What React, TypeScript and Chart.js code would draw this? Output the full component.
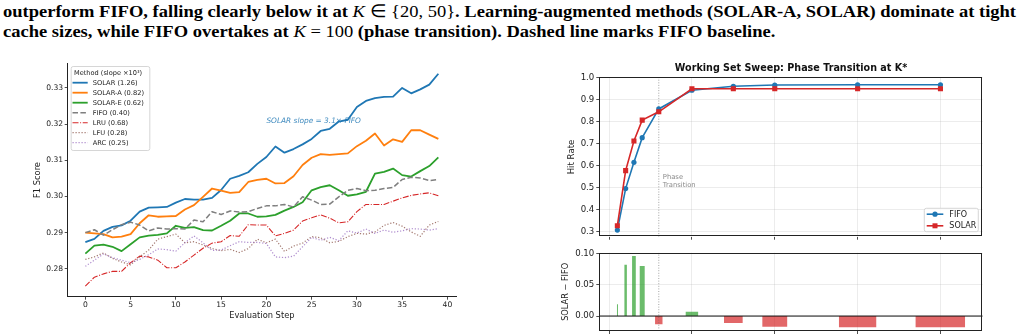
import React, { useEffect, useLayoutEffect, useRef } from "react";
import { Chart, registerables } from "chart.js";

Chart.register(...registerables);

const FONT = "'DejaVu Sans', sans-serif";
const TEXT = "#222";

// ---------------- Left chart data ----------------
const STEPS = [0, 1, 2, 3, 4, 5, 6, 7, 8, 9, 10, 11, 12, 13, 14, 15, 16, 17, 18, 19, 20, 21, 22, 23, 24, 25, 26, 27, 28, 29, 30, 31, 32, 33, 34, 35, 36, 37, 38, 39];
const SOLAR = [0.2874, 0.2883, 0.2905, 0.2916, 0.292, 0.2933, 0.2958, 0.2969, 0.297, 0.2971, 0.2983, 0.2993, 0.2991, 0.2991, 0.2996, 0.3018, 0.3049, 0.3057, 0.3067, 0.309, 0.3109, 0.3138, 0.3121, 0.3131, 0.3144, 0.3159, 0.3181, 0.3187, 0.3207, 0.3212, 0.3247, 0.3264, 0.3272, 0.3275, 0.3276, 0.33, 0.3285, 0.3296, 0.3309, 0.3339];
const SOLAR_A = [0.29, 0.2898, 0.2896, 0.2887, 0.2889, 0.2896, 0.2926, 0.2948, 0.2944, 0.2945, 0.2946, 0.2964, 0.2976, 0.2999, 0.3022, 0.3016, 0.301, 0.3012, 0.304, 0.3046, 0.3049, 0.3036, 0.3037, 0.3056, 0.3087, 0.3107, 0.3117, 0.3115, 0.3117, 0.3119, 0.3139, 0.3154, 0.3174, 0.3141, 0.3158, 0.3151, 0.3183, 0.3183, 0.3171, 0.3159];
const SOLAR_E = [0.2842, 0.2864, 0.2867, 0.2861, 0.2849, 0.2868, 0.2887, 0.2892, 0.2894, 0.2898, 0.2919, 0.2913, 0.2915, 0.2907, 0.2906, 0.2919, 0.2933, 0.2953, 0.2953, 0.2944, 0.2945, 0.2949, 0.2961, 0.2971, 0.2984, 0.3017, 0.3026, 0.3031, 0.3017, 0.3002, 0.3006, 0.3013, 0.3063, 0.3068, 0.3077, 0.3059, 0.3055, 0.307, 0.3084, 0.3108];
const FIFO = [0.29, 0.2908, 0.2893, 0.2908, 0.2922, 0.2929, 0.2921, 0.2905, 0.2913, 0.291, 0.2911, 0.291, 0.2935, 0.293, 0.2958, 0.295, 0.296, 0.2957, 0.2958, 0.2967, 0.2974, 0.2974, 0.2978, 0.2971, 0.2999, 0.299, 0.2978, 0.2979, 0.2999, 0.3017, 0.3022, 0.3016, 0.3017, 0.3022, 0.3025, 0.3047, 0.3053, 0.3051, 0.3044, 0.3047];
const LRU = [0.2752, 0.2777, 0.2786, 0.2793, 0.2793, 0.2817, 0.2835, 0.2833, 0.2824, 0.2803, 0.2803, 0.2819, 0.2838, 0.2857, 0.2871, 0.2875, 0.2892, 0.289, 0.2922, 0.2921, 0.2921, 0.2891, 0.2898, 0.2907, 0.2932, 0.2941, 0.2949, 0.294, 0.2927, 0.293, 0.2958, 0.2978, 0.2978, 0.2978, 0.2987, 0.2996, 0.3003, 0.3007, 0.301, 0.3002];
const LFU = [0.2826, 0.2833, 0.2844, 0.2829, 0.2819, 0.2811, 0.2833, 0.2852, 0.2882, 0.2889, 0.2896, 0.2872, 0.2875, 0.2866, 0.2856, 0.285, 0.2854, 0.2845, 0.2856, 0.2882, 0.2872, 0.2882, 0.2848, 0.2863, 0.2871, 0.2889, 0.2886, 0.2872, 0.2876, 0.2889, 0.2898, 0.2896, 0.2902, 0.292, 0.2928, 0.2918, 0.2902, 0.289, 0.2921, 0.2931];
const ARC = [0.2807, 0.2824, 0.2841, 0.2831, 0.2824, 0.2817, 0.2826, 0.2839, 0.2855, 0.2853, 0.2849, 0.2872, 0.2891, 0.2872, 0.2851, 0.2852, 0.2864, 0.2875, 0.2873, 0.2873, 0.287, 0.2833, 0.2831, 0.2835, 0.2861, 0.2887, 0.2879, 0.2887, 0.2878, 0.2905, 0.2899, 0.291, 0.2898, 0.2907, 0.2901, 0.2905, 0.2911, 0.291, 0.2907, 0.2911];

const METHOD_NAMES = ["SOLAR", "SOLAR-A", "SOLAR-E", "FIFO", "LRU", "LFU", "ARC"];
const METHOD_SLOPES = ["1.26", "0.82", "0.62", "0.40", "0.68", "0.28", "0.25"];
const METHOD_SERIES = [SOLAR, SOLAR_A, SOLAR_E, FIFO, LRU, LFU, ARC];
const LEGEND_TITLE = "Method (slope ×10³)";
const ANNOTATION_TEXT = "SOLAR slope = 3.1× FIFO";
const ANNOTATION_AT = { x: 20, y: 0.3209 };
const LEFT_X_TICKS = [0, 5, 10, 15, 20, 25, 30, 35, 40];
const LEFT_Y_TICKS = [0.28, 0.29, 0.3, 0.31, 0.32, 0.33];

const METHOD_STYLES = [
  { color: "#1f77b4", width: 1.8, dash: [] as number[] },
  { color: "#ff7f0e", width: 1.8, dash: [] as number[] },
  { color: "#2ca02c", width: 1.8, dash: [] as number[] },
  { color: "#7f7f7f", width: 1.5, dash: [5.5, 2.4] },
  { color: "#d62728", width: 1.1, dash: [6, 1.6, 1, 1.6] },
  { color: "rgba(140,86,75,0.8)", width: 1.2, dash: [1.2, 1.8] },
  { color: "rgba(148,103,189,0.75)", width: 1.2, dash: [1.2, 1.8] },
];

// ---------------- Right chart data ----------------
const K_VALUES = [10, 20, 30, 40, 60, 100, 150, 200, 300, 400];
const FIFO_HIT = [0.306, 0.495, 0.615, 0.727, 0.858, 0.943, 0.961, 0.967, 0.968, 0.968];
const SOLAR_HIT = [0.326, 0.577, 0.712, 0.807, 0.845, 0.95, 0.95, 0.95, 0.95, 0.95];
const HIT_DIFF = [0.019, 0.082, 0.096, 0.08, -0.013, 0.007, -0.011, -0.017, -0.018, -0.018];
const PHASE_K = 60;
const RIGHT_X_TICKS = [0, 100, 200, 300, 400];
const TOP_Y_TICKS = [0.3, 0.4, 0.5, 0.6, 0.7, 0.8, 0.9, 1.0];
const BOTTOM_Y_TICKS = [0, 0.05, 0.1];
const RIGHT_TITLE = "Working Set Sweep: Phase Transition at K*";
const BAR_WIDTH_FRAC = 0.15;

const X_RIGHT_MIN = -11.8;
const X_RIGHT_MAX = 451;
const TOP_Y_MIN = 0.276;
const TOP_Y_MAX = 1.002;
const BOT_Y_MIN = -0.0239;
const BOT_Y_MAX = 0.1012;

const GRID_COLOR = "rgba(176,176,176,0.3)";

function setTicks(values: number[]) {
  return (scale: any) => {
    scale.ticks = values.map((v) => ({ value: v }));
  };
}

const framePlugin = {
  id: "frame",
  afterDraw(chart: any) {
    const { ctx, chartArea: a } = chart;
    ctx.save();
    ctx.strokeStyle = TEXT;
    ctx.lineWidth = 1;
    ctx.strokeRect(Math.round(a.left) + 0.5, Math.round(a.top) + 0.5, Math.round(a.right - a.left) - 1, Math.round(a.bottom - a.top) - 1);
    ctx.restore();
  },
};

function roundRect(ctx: CanvasRenderingContext2D, x: number, y: number, w: number, h: number, r: number) {
  ctx.beginPath();
  ctx.moveTo(x + r, y);
  ctx.lineTo(x + w - r, y);
  ctx.quadraticCurveTo(x + w, y, x + w, y + r);
  ctx.lineTo(x + w, y + h - r);
  ctx.quadraticCurveTo(x + w, y + h, x + w - r, y + h);
  ctx.lineTo(x + r, y + h);
  ctx.quadraticCurveTo(x, y + h, x, y + h - r);
  ctx.lineTo(x, y + r);
  ctx.quadraticCurveTo(x, y, x + r, y);
  ctx.closePath();
}

function leftConfig(): any {
  const datasets = METHOD_SERIES.map((series, i) => ({
    label: `${METHOD_NAMES[i]} (${METHOD_SLOPES[i]})`,
    data: series.map((v, j) => ({ x: STEPS[j], y: v })),
    borderColor: METHOD_STYLES[i].color,
    backgroundColor: METHOD_STYLES[i].color,
    borderWidth: METHOD_STYLES[i].width,
    borderDash: METHOD_STYLES[i].dash,
    borderJoinStyle: "round",
    pointRadius: 0,
    tension: 0,
    fill: false,
    order: METHOD_SERIES.length - i,
  }));
  const annotationPlugin = {
    id: "annot",
    beforeDatasetsDraw(chart: any) {
      const { ctx, scales } = chart;
      ctx.save();
      ctx.font = `italic 7.4px ${FONT}`;
      ctx.fillStyle = "rgba(31,119,180,0.85)";
      ctx.textBaseline = "middle";
      ctx.fillText(ANNOTATION_TEXT, scales.x.getPixelForValue(ANNOTATION_AT.x), scales.y.getPixelForValue(ANNOTATION_AT.y));
      ctx.restore();
    },
  };
  const legendPlugin = {
    id: "leftLegend",
    afterDatasetsDraw(chart: any) {
      const { ctx, chartArea } = chart;
      const x0 = chartArea.left + 3;
      const y0 = chartArea.top + 2.7;
      ctx.save();
      roundRect(ctx, x0 + 0.5, y0 + 0.5, 78.6, 84, 2);
      ctx.fillStyle = "rgba(255,255,255,0.85)";
      ctx.fill();
      ctx.strokeStyle = "#cccccc";
      ctx.lineWidth = 0.8;
      ctx.stroke();
      ctx.fillStyle = TEXT;
      ctx.textBaseline = "middle";
      ctx.font = `6.6px ${FONT}`;
      ctx.fillText(LEGEND_TITLE, x0 + 3.3, y0 + 6.9);
      chart.data.datasets.forEach((ds: any, i: number) => {
        const y = y0 + 16.7 + 10 * i;
        ctx.beginPath();
        ctx.strokeStyle = ds.borderColor;
        ctx.lineWidth = ds.borderWidth;
        ctx.setLineDash(ds.borderDash || []);
        ctx.moveTo(x0 + 1.8, y);
        ctx.lineTo(x0 + 17, y);
        ctx.stroke();
        ctx.setLineDash([]);
        ctx.fillStyle = TEXT;
        ctx.font = `6.7px ${FONT}`;
        ctx.fillText(ds.label, x0 + 22, y + 0.3);
      });
      ctx.restore();
    },
  };
  return {
    type: "line",
    data: { datasets },
    plugins: [annotationPlugin, legendPlugin],
    options: {
      animation: false,
      responsive: false,
      events: [],
      layout: { padding: { top: 8.3, right: 14, left: 0, bottom: 0 } },
      plugins: { legend: { display: false }, tooltip: { enabled: false }, title: { display: false } },
      scales: {
        x: {
          type: "linear",
          min: -1.95,
          max: 40.95,
          afterBuildTicks: setTicks(LEFT_X_TICKS),
          afterFit: (s: any) => { s.height = 37.3; },
          grid: { display: true, drawOnChartArea: false, drawTicks: true, tickLength: 3, tickColor: TEXT, tickWidth: 0.8 },
          border: { display: true, color: TEXT, width: 1 },
          ticks: { font: { size: 7.6, family: FONT }, color: TEXT, padding: 1.2, maxRotation: 0, autoSkip: false, callback: (v: any) => String(v) },
          title: { display: true, text: "Evaluation Step", font: { size: 8.3, family: FONT }, color: TEXT, padding: { top: 0, bottom: 13.1 } },
        },
        y: {
          type: "linear",
          min: 0.2723,
          max: 0.3368,
          afterBuildTicks: setTicks(LEFT_Y_TICKS),
          afterFit: (s: any) => { s.width = 67.7; },
          grid: { display: true, drawOnChartArea: false, drawTicks: true, tickLength: 3, tickColor: TEXT, tickWidth: 0.8 },
          border: { display: true, color: TEXT, width: 1 },
          ticks: { font: { size: 7.6, family: FONT }, color: TEXT, padding: 1.5, autoSkip: false, callback: (v: any) => Number(v).toFixed(2) },
          title: { display: true, text: "F1 Score", font: { size: 8.3, family: FONT }, color: TEXT, padding: { top: 33.3, bottom: 0 } },
        },
      },
    },
  };
}

function topRightConfig(): any {
  const phasePlugin = {
    id: "phaseText",
    afterDatasetsDraw(chart: any) {
      const { ctx, scales } = chart;
      const x = scales.x.getPixelForValue(PHASE_K) + 4;
      ctx.save();
      ctx.font = `6.8px ${FONT}`;
      ctx.fillStyle = "#8a8a8a";
      ctx.textBaseline = "middle";
      ctx.fillText("Phase", x, scales.y.getPixelForValue(0.547));
      ctx.fillText("Transition", x, scales.y.getPixelForValue(0.547) + 7.9);
      ctx.restore();
    },
  };
  const legendPlugin = {
    id: "rightLegend",
    afterDraw(chart: any) {
      const { ctx, chartArea } = chart;
      const w = 54;
      const h = 23.4;
      const x0 = chartArea.right - 4.4 - w;
      const y0 = chartArea.bottom - 5 - h;
      ctx.save();
      roundRect(ctx, x0, y0, w, h, 2);
      ctx.fillStyle = "rgba(255,255,255,0.85)";
      ctx.fill();
      ctx.strokeStyle = "#cccccc";
      ctx.lineWidth = 0.8;
      ctx.stroke();
      const items = [
        { label: "FIFO", color: "#1f77b4", square: false },
        { label: "SOLAR", color: "#d62728", square: true },
      ];
      items.forEach((it, i) => {
        const y = y0 + 5.9 + 11.6 * i;
        ctx.beginPath();
        ctx.strokeStyle = it.color;
        ctx.lineWidth = 1.6;
        ctx.moveTo(x0 + 2.4, y);
        ctx.lineTo(x0 + 19, y);
        ctx.stroke();
        ctx.fillStyle = it.color;
        if (it.square) {
          ctx.fillRect(x0 + 10.7 - 2.5, y - 2.5, 5, 5);
        } else {
          ctx.beginPath();
          ctx.arc(x0 + 10.7, y, 2.6, 0, Math.PI * 2);
          ctx.fill();
        }
        ctx.fillStyle = TEXT;
        ctx.font = `8px ${FONT}`;
        ctx.textBaseline = "middle";
        ctx.fillText(it.label, x0 + 25, y + 0.3);
      });
      ctx.restore();
    },
  };
  return {
    type: "line",
    data: {
      datasets: [
        {
          label: "FIFO",
          data: K_VALUES.map((k, i) => ({ x: k, y: FIFO_HIT[i] })),
          borderColor: "#1f77b4",
          backgroundColor: "#1f77b4",
          borderWidth: 1.6,
          pointStyle: "circle",
          pointRadius: 2.6,
          pointBorderWidth: 0,
          tension: 0,
          order: 2,
        },
        {
          label: "SOLAR",
          data: K_VALUES.map((k, i) => ({ x: k, y: SOLAR_HIT[i] })),
          borderColor: "#d62728",
          backgroundColor: "#d62728",
          borderWidth: 1.6,
          pointStyle: "rect",
          pointRadius: 3.6,
          pointBorderWidth: 0,
          tension: 0,
          order: 1,
        },
        {
          label: "phase",
          data: [{ x: PHASE_K, y: TOP_Y_MIN }, { x: PHASE_K, y: TOP_Y_MAX }],
          borderColor: "rgba(110,110,110,0.7)",
          borderWidth: 0.9,
          borderDash: [1, 1.6],
          pointRadius: 0,
          order: 3,
        },
      ],
    },
    plugins: [phasePlugin, framePlugin, legendPlugin],
    options: {
      animation: false,
      responsive: false,
      events: [],
      layout: { padding: { top: 0, right: 38.3, left: 0, bottom: 0 } },
      plugins: {
        legend: { display: false },
        tooltip: { enabled: false },
        title: { display: true, text: RIGHT_TITLE, fullSize: false, color: "#111", font: { size: 9.6, weight: "bold", family: FONT }, padding: { top: 7.4, bottom: 3.4 } },
      },
      scales: {
        x: {
          type: "linear",
          min: X_RIGHT_MIN,
          max: X_RIGHT_MAX,
          afterBuildTicks: setTicks(RIGHT_X_TICKS),
          afterFit: (s: any) => { s.height = 8.3; },
          grid: { color: GRID_COLOR, lineWidth: 0.8, drawTicks: true, tickLength: 3, tickColor: TEXT, tickWidth: 0.8 },
          border: { display: false },
          ticks: { display: false },
        },
        y: {
          type: "linear",
          min: TOP_Y_MIN,
          max: TOP_Y_MAX,
          afterBuildTicks: setTicks(TOP_Y_TICKS),
          afterFit: (s: any) => { s.width = 69.3; },
          grid: { color: GRID_COLOR, lineWidth: 0.8, drawTicks: true, tickLength: 3, tickColor: TEXT, tickWidth: 0.8 },
          border: { display: false },
          ticks: { font: { size: 8.6, family: FONT }, color: TEXT, padding: 2, autoSkip: false, callback: (v: any) => Number(v).toFixed(1) },
          title: { display: true, text: "Hit Rate", font: { size: 8.6, family: FONT }, color: TEXT, padding: { top: 36.5, bottom: 0 } },
        },
      },
    },
  };
}

function bottomRightConfig(): any {
  const barOutline = K_VALUES.flatMap((k, i) => {
    const half = (k * BAR_WIDTH_FRAC) / 2;
    return [
      { x: k - half, y: 0 },
      { x: k - half, y: HIT_DIFF[i] },
      { x: k + half, y: HIT_DIFF[i] },
      { x: k + half, y: 0 },
    ];
  });
  return {
    type: "line",
    data: {
      datasets: [
        {
          label: "zero",
          data: [{ x: X_RIGHT_MIN, y: 0 }, { x: X_RIGHT_MAX, y: 0 }],
          borderColor: "#111",
          borderWidth: 1,
          pointRadius: 0,
          order: 0,
        },
        {
          label: "diff",
          data: barOutline,
          borderColor: "rgba(0,0,0,0)",
          borderWidth: 0,
          pointRadius: 0,
          tension: 0,
          fill: { target: "origin", above: "rgba(44,160,44,0.7)", below: "rgba(214,39,40,0.7)" },
          order: 2,
        },
        {
          label: "phase",
          data: [{ x: PHASE_K, y: BOT_Y_MIN }, { x: PHASE_K, y: BOT_Y_MAX }],
          borderColor: "rgba(110,110,110,0.7)",
          borderWidth: 0.9,
          borderDash: [1, 1.6],
          pointRadius: 0,
          order: 1,
        },
      ],
    },
    plugins: [framePlugin],
    options: {
      animation: false,
      responsive: false,
      events: [],
      layout: { padding: { top: 7.7, right: 38.3, left: 0, bottom: 0 } },
      plugins: { legend: { display: false }, tooltip: { enabled: false }, title: { display: false } },
      scales: {
        x: {
          type: "linear",
          min: X_RIGHT_MIN,
          max: X_RIGHT_MAX,
          afterBuildTicks: setTicks(RIGHT_X_TICKS),
          afterFit: (s: any) => { s.height = 14; },
          grid: { color: GRID_COLOR, lineWidth: 0.8, drawTicks: true, tickLength: 3, tickColor: TEXT, tickWidth: 0.8 },
          border: { display: false },
          ticks: { font: { size: 8.6, family: FONT }, color: TEXT, padding: 2, maxRotation: 0, autoSkip: false, callback: (v: any) => String(v) },
        },
        y: {
          type: "linear",
          min: BOT_Y_MIN,
          max: BOT_Y_MAX,
          afterBuildTicks: setTicks(BOTTOM_Y_TICKS),
          afterFit: (s: any) => { s.width = 69.3; },
          grid: { color: GRID_COLOR, lineWidth: 0.8, drawTicks: true, tickLength: 3, tickColor: TEXT, tickWidth: 0.8 },
          border: { display: false },
          ticks: { font: { size: 8.6, family: FONT }, color: TEXT, padding: 2, autoSkip: false, callback: (v: any) => Number(v).toFixed(2) },
          title: { display: true, text: "SOLAR − FIFO", font: { size: 8.2, family: FONT }, color: TEXT, padding: { top: 31, bottom: 0 } },
        },
      },
    },
  };
}

function ChartCanvas(props: { make: () => any; left: number; top: number; width: number; height: number }) {
  const ref = useRef<HTMLCanvasElement>(null);
  useEffect(() => {
    if (!ref.current) return;
    const chart = new Chart(ref.current, props.make());
    return () => chart.destroy();
  }, []);
  return (
    <canvas
      ref={ref}
      width={props.width}
      height={props.height}
      style={{ position: "absolute", left: props.left, top: props.top, width: props.width, height: props.height }}
    />
  );
}

const CAPTION_WIDTH = 1013;

export default function App() {
  const l1 = useRef<HTMLSpanElement>(null);
  const l2 = useRef<HTMLSpanElement>(null);
  useLayoutEffect(() => {
    Chart.defaults.font.family = FONT;
    if (!l1.current || !l2.current) return;
    const w = l1.current.getBoundingClientRect().width;
    const s = CAPTION_WIDTH / w;
    l1.current.style.transform = `scaleX(${s})`;
    l2.current.style.transform = `scaleX(${s})`;
  }, []);
  const lineStyle: React.CSSProperties = {
    position: "absolute",
    left: 3,
    display: "inline-block",
    whiteSpace: "nowrap",
    transformOrigin: "0 0",
    fontFamily: "'Liberation Serif', serif",
    fontWeight: "bold",
    fontSize: 17.5,
    lineHeight: "19px",
    color: "#000",
  };
  const math: React.CSSProperties = { fontWeight: "normal" };
  return (
    <div style={{ position: "fixed", left: 0, top: 0, width: 1021, height: 334, overflow: "hidden", background: "#fff" }}>
      <span ref={l1} style={{ ...lineStyle, top: 2 }}>
        outperform FIFO, falling clearly below it at <span style={math}><i>K</i> ∈ {"{"}20, 50{"}"}</span>. Learning-augmented methods (SOLAR-A, SOLAR) dominate at tight
      </span>
      <span ref={l2} style={{ ...lineStyle, top: 21.5 }}>
        cache sizes, while FIFO overtakes at <span style={math}><i>K</i> = 100</span> (phase transition). Dashed line marks FIFO baseline.
      </span>
      <ChartCanvas make={leftConfig} left={0} top={55} width={470} height={279} />
      <ChartCanvas make={topRightConfig} left={530} top={55} width={491} height={190} />
      <ChartCanvas make={bottomRightConfig} left={530} top={245} width={491} height={100} />
    </div>
  );
}
